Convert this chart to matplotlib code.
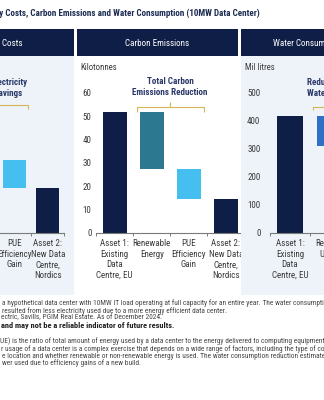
import matplotlib
matplotlib.use('Agg')
import matplotlib.pyplot as plt
from matplotlib.patches import Rectangle
from matplotlib.lines import Line2D
from matplotlib.transforms import blended_transform_factory
from matplotlib import font_manager as fm
from matplotlib.font_manager import FontProperties

# ---------------- data ----------------
title_text = "Electricity Costs, Carbon Emissions and Water Consumption (10MW Data Center)"
panel_titles = ["Electricity Costs", "Carbon Emissions", "Water Consumption"]
unit_labels = ["", "Kilotonnes", "Mil litres"]

waterfall_categories = ["Asset 1:\nExisting\nData\nCentre, EU", "Renewable\nEnergy",
                        "PUE\nEfficiency\nGain", "Asset 2:\nNew Data\nCentre,\nNordics"]
elec_values = [52.0, -20.7, -12.0, 19.3]
carbon_values = [52.0, -24.5, -13.0, 14.5]
carbon_ticks = [0, 10, 20, 30, 40, 50, 60]

water_categories = ["Asset 1:\nExisting\nData\nCentre, EU", "Reduced\nUsage",
                    "Asset 2:\nNew Data\nCentre,\nNordics"]
water_values = [415.0, -105.0, 310.0]
water_ticks = [0, 100, 200, 300, 400, 500]

bracket_labels = ["Total Electricity\nCost Savings", "Total Carbon\nEmissions Reduction",
                  "Reduction in\nWater Usage"]

footnote_lines = [
    "a hypothetical data center with 10MW IT load operating at full capacity for an entire year. The water consumption reduction",
    "resulted from less electricity used due to a more energy efficient data center.",
    "ectric, Savills, PGIM Real Estate. As of December 2024.",
    "and may not be a reliable indicator of future results.",
    "UE) is the ratio of total amount of energy used by a data center to the energy delivered to computing equipment.",
    "r usage of a data center is a complex exercise that depends on a wide range of factors, including the type of cooling",
    "e location and whether renewable or non-renewable energy is used. The water consumption reduction estimate",
    "wer used due to efficiency gains of a new build.",
]
footnote_bold = [False, False, False, True, False, False, False, False]

# ---------------- style ----------------
NAVY = '#0e1e46'
TEAL = '#2b7890'
LIGHT = '#45bff0'
BLUE = '#2f6fc6'
GOLD = '#d6b457'
PANEL = '#eef3f9'
TXT = '#3a3a3a'
TITLE = '#1c2b52'
BRK_TXT = '#2a3868'

W, H = 324, 400
fig = plt.figure(figsize=(3.24, 4.0), dpi=100)
plt.rcParams['font.family'] = ['Liberation Sans', 'DejaVu Sans']
renderer = fig.canvas.get_renderer()


def find_font(bold):
    want = 700 if bold else 400
    cands = []
    for f in fm.fontManager.ttflist:
        w = f.weight if isinstance(f.weight, int) else (700 if 'bold' in str(f.weight) else 400)
        if abs(w - want) > 50 or f.style != 'normal':
            continue
        narrow = ('Narrow' in f.name or 'Condensed' in f.name or
                  str(f.stretch) in ('condensed', 'semi-condensed'))
        if not narrow:
            continue
        if 'Extra' in f.name or 'Semi' in f.name:
            continue
        for rank, key in enumerate(['Liberation Sans', 'Arial', 'Roboto', 'Noto Sans', 'Open Sans', 'DejaVu Sans']):
            if f.name.startswith(key) and 'Mono' not in f.name and 'CJK' not in f.name:
                cands.append((rank, f.fname))
                break
    if cands:
        cands.sort()
        return cands[0][1]
    return fm.findfont(FontProperties(family='Liberation Sans', weight='bold' if bold else 'normal'))


REG_PATH = find_font(False)
BOLD_PATH = find_font(True)


def fp(size, bold=False):
    return FontProperties(fname=BOLD_PATH if bold else REG_PATH, size=size)


def fx(x):
    return x / W


def fy(y):
    return 1 - y / H


def fit_size(s, width, bold=False, base=10.0):
    t = fig.text(0, 0, s, fontproperties=fp(base, bold))
    w = t.get_window_extent(renderer).width
    t.remove()
    return base * width / w


fs_title = fit_size("ty Costs, Carbon Emissions and Water Consumption (10MW Data Center)", 260, True)
fs_head = fit_size("Carbon Emissions", 64)
fs_unit = fit_size("Mil litres", 30)
fs_tick = fit_size("500", 13.3)
fs_cat = fit_size("Renewable", 38)
fs_brk = fit_size("Emissions Reduction", 75, True)
fs_foot = fit_size(footnote_lines[0][:111], 321)
fs_foot_b = fs_foot * 1.12

# title
fig.text(fx(260), fy(13), title_text, ha='right', va='center', fontproperties=fp(fs_title, True),
         color=TITLE)

# headers + panel backgrounds
head_boxes = [(-10, 74.3), (77, 238), (240.7, 340)]
for (x0, x1) in head_boxes:
    fig.add_artist(Rectangle((fx(x0), fy(55.5)), fx(x1) - fx(x0), (55.5 - 29.3) / H,
                             transform=fig.transFigure, facecolor=NAVY, edgecolor='none', zorder=3))
for (x0, x1) in [head_boxes[0], head_boxes[2]]:
    fig.add_artist(Rectangle((fx(x0), fy(295)), fx(x1) - fx(x0), (295 - 55.5) / H,
                             transform=fig.transFigure, facecolor=PANEL, edgecolor='none',
                             zorder=0.1 if x0 < 0 else 1))
fig.text(fx(22.7), fy(43), panel_titles[0], ha='right', va='center', fontproperties=fp(fs_head), color='white', zorder=4)
fig.text(fx(157.5), fy(43), panel_titles[1], ha='center', va='center', fontproperties=fp(fs_head), color='white', zorder=4)
fig.text(fx(273.3), fy(43), panel_titles[2], ha='left', va='center', fontproperties=fp(fs_head), color='white', zorder=4)

# unit labels
fig.text(fx(80), fy(68), unit_labels[1], ha='left', va='center', fontproperties=fp(fs_unit), color=TXT, zorder=4)
fig.text(fx(245), fy(68), unit_labels[2], ha='left', va='center', fontproperties=fp(fs_unit), color=TXT, zorder=4)


def add_axes_px(x0, x1, ytop, ybot, z):
    ax = fig.add_axes([fx(x0), fy(ybot), fx(x1) - fx(x0), (ybot - ytop) / H])
    ax.set_zorder(z)
    ax.patch.set_alpha(0)
    for s in ['top', 'right', 'left']:
        ax.spines[s].set_visible(False)
    ax.spines['bottom'].set_color('#7a7a7a')
    ax.spines['bottom'].set_linewidth(0.8)
    return ax


def waterfall(ax, values, colors, width):
    total = 0.0
    n = len(values)
    for i, v in enumerate(values):
        if i == 0:
            bottom, height = 0, v
            total = v
        elif i == n - 1:
            bottom, height = 0, v
        else:
            bottom, height = total + v, -v
            total += v
        ax.bar(i, height, bottom=bottom, width=width, color=colors[i], linewidth=0)


def setup_axis(ax, cats, ylim, ticks, ypad, show_y=True):
    n = len(cats)
    ax.set_xlim(-0.5, n - 0.5)
    ax.set_ylim(*ylim)
    ax.set_xticks(range(n))
    ax.set_xticklabels(cats, fontproperties=fp(fs_cat), color=TXT, linespacing=1.22)
    ax.tick_params(axis='x', which='major', length=0, pad=4.6)
    ax.set_xticks([i - 0.5 for i in range(n + 1)], minor=True)
    ax.tick_params(axis='x', which='minor', length=2.2, width=0.7, color='#7a7a7a', direction='out')
    if show_y:
        ax.set_yticks(ticks)
        ax.set_yticklabels([str(t) for t in ticks], fontproperties=fp(fs_tick), color=TXT)
        ax.tick_params(axis='y', length=0, pad=ypad)
    else:
        ax.set_yticks([])


def bracket(ax, x0, x1, y_end, y_line, y_peak, label, ytext_px):
    xm = (x0 + x1) / 2
    kw = dict(color=GOLD, lw=0.8, transform=ax.transData, clip_on=False, solid_capstyle='butt')
    ax.add_line(Line2D([x0, x0, x1, x1], [y_end, y_line, y_line, y_end], **kw))
    ax.add_line(Line2D([xm, xm], [y_line, y_peak], **kw))
    tr = blended_transform_factory(ax.transData, fig.transFigure)
    ax.text(xm, fy(ytext_px), label, transform=tr, ha='center', va='center',
            fontproperties=fp(fs_brk, True), color=BRK_TXT, linespacing=1.25, clip_on=False)


# left panel: electricity costs
ax_l = add_axes_px(-67.8, 64.2, 93, 233, 0.6)
waterfall(ax_l, elec_values, [NAVY, TEAL, LIGHT, NAVY], 0.7)
setup_axis(ax_l, waterfall_categories, (0, 60), carbon_ticks, 3.4, show_y=False)
bracket(ax_l, 0.6, 2.4, 53.0, 54.8, 56.8, bracket_labels[0], 88)

# middle panel: carbon emissions
ax_m = add_axes_px(96.2, 244.2, 93, 233, 0.5)
waterfall(ax_m, carbon_values, [NAVY, TEAL, LIGHT, NAVY], 0.65)
setup_axis(ax_m, waterfall_categories, (0, 60), carbon_ticks, 3.4)
bracket(ax_m, 0.6, 2.4, 52.0, 54.0, 56.3, bracket_labels[1], 87)

# right panel: water consumption
ax_r = add_axes_px(270, 390, 92, 233, 2)
waterfall(ax_r, water_values, [NAVY, BLUE, NAVY], 0.67)
setup_axis(ax_r, water_categories, (0, 500), water_ticks, 6.9)
bracket(ax_r, 0.57, 1.43, 436, 448, 465, bracket_labels[2], 88)

# footnotes
foot_y = [303, 311, 318, 325.5, 341, 349, 356, 363]
foot_x = [2.5, 1.7, 1.0, 1.0, 0.0, 1.0, 1.7, 1.7]
for s, b, x, y in zip(footnote_lines, footnote_bold, foot_x, foot_y):
    fig.text(fx(x), fy(y), s, ha='left', va='center', fontproperties=fp(fs_foot_b if b else fs_foot, b),
             color='#202020' if b else '#454545')

fig.savefig('out.png', dpi=100)
